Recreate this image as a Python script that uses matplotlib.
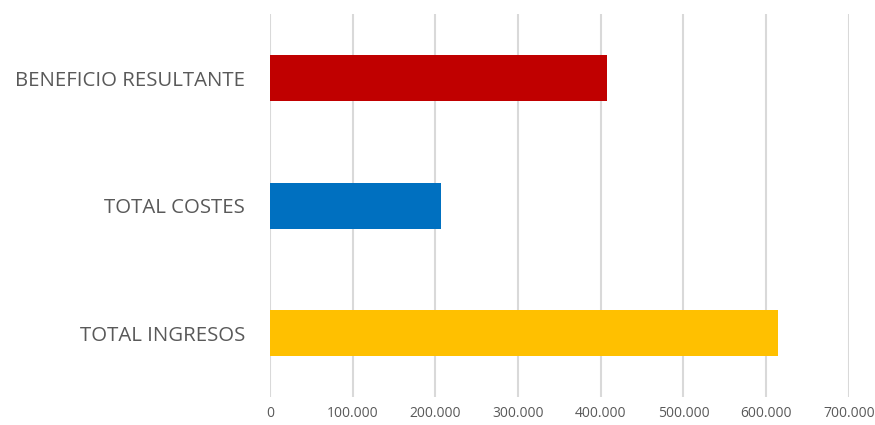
import matplotlib.pyplot as plt
from matplotlib.ticker import FuncFormatter

categorias = ["TOTAL INGRESOS", "TOTAL COSTES", "BENEFICIO RESULTANTE"]
valores = [615000, 207000, 408000]
colores = ["#FFC000", "#0070C0", "#C00000"]

plt.rcParams['font.family'] = ['Open Sans', 'DejaVu Sans']

fig = plt.figure(figsize=(8.75, 4.25), dpi=100)
ax = fig.add_axes([0.3086, 0.0665, 0.970 - 0.3086, 0.966 - 0.0665])

ax.barh(categorias, valores, height=0.36, color=colores, zorder=3)

ax.set_xlim(0, 700000)
ax.set_ylim(-0.5, 2.5)
ax.set_xticks(range(0, 700001, 100000))
ax.xaxis.set_major_formatter(FuncFormatter(lambda v, p: f"{int(v):,}".replace(",", ".")))
ax.grid(axis='x', color='#d9d9d9', linewidth=1.5, zorder=0)
for s in ax.spines.values():
    s.set_visible(False)
ax.tick_params(axis='x', length=0, labelsize=10, labelcolor='#595959', pad=7)
ax.tick_params(axis='y', length=0, labelsize=14.7, labelcolor='#595959', pad=18)

fig.savefig("out.png", dpi=100)
